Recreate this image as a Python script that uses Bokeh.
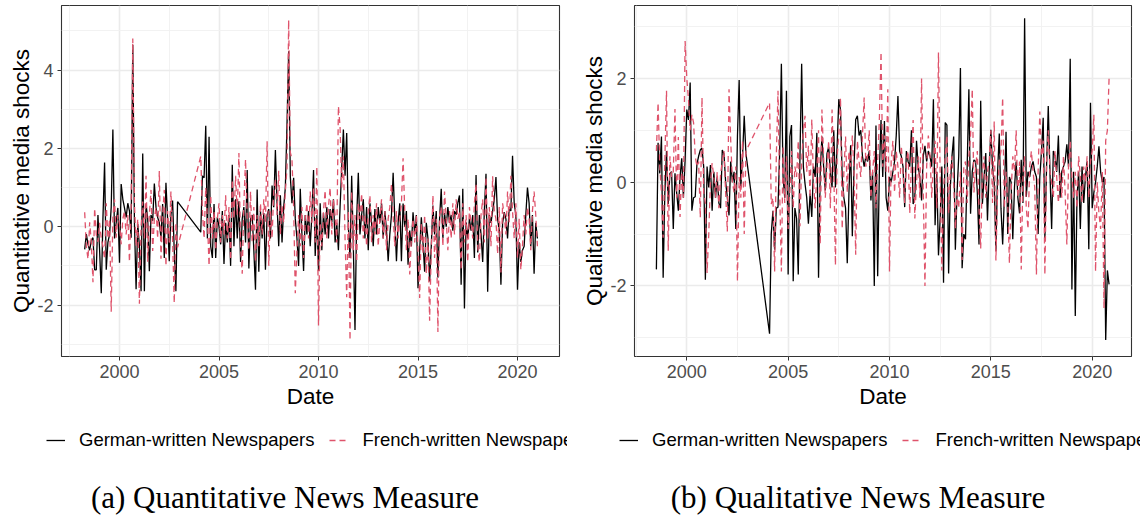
from bokeh.plotting import figure
from bokeh.models import Range1d, FixedTicker, Legend, LegendItem, ColumnDataSource, Spacer, Label
from bokeh.layouts import row, column
from bokeh.embed import file_html
from bokeh.resources import INLINE

# ---------------- data (monthly, decimal years) ----------------
# Panel (a): quantitative measure, 1998-04..2002-12 and 2004-02..2021-01
quant_german_1998 = [
    -0.58, -0.19, -0.45, -0.6, -0.35, -0.28, -1.1, -1.1, 0.3, -0.6,
    -1.7, 0.2, 1.64, -1.1, -0.4, -0.2, 0.5, 2.48, -0.3, 0.1,
    0.48, -0.92, 1.09, 0.7, 0.48, 0.24, 0.6, 0.4, -0.28, 4.64,
    0.1, -1.6, 0.07, -0.5, -1.65, 1.87, -1.65, 0.58, 0.2, -1.14,
    0.3, 0.15, 1.1, 0.5, 0.24, 0.1, -0.28, 0.58, -0.8, 1.12,
    0.2, -0.88, 0.3, 0.67, -0.6, -1.65, 0.64]
quant_french_1998 = [
    0.37, -0.5, -0.83, 0.11, -0.4, -1.42, 0.47, -0.2, -0.39, 0.1,
    -0.3, -0.5, -0.82, 0.6, -0.3, 0.2, -2.17, 0.24, 0.7, -0.28,
    0.3, 0.07, -0.45, 0.2, 0.4, -0.2, 0.3, -0.9, 0.5, 4.81,
    0.6, -0.5, 0.2, -1.97, 0.0, 0.64, -0.3, 1.3, -0.9, 0.3,
    0.94, -0.62, 0.2, 0.5, -0.3, 1.42, -0.82, 0.3, 0.94, -1.0,
    0.4, -0.4, 0.9, -0.3, -1.95, 0.1, -0.53]
quant_german_2004 = [
    -0.14, 1.3, 1.25, 2.58, -0.3, 2.3, -0.5, -0.8, 0.58, -0.8,
    0.24, 0.0, -0.45, 0.4, -0.95, 0.1, -0.4, 0.3, -1.0, 1.58,
    -0.5, 0.7, -0.3, 0.65, -0.9, 0.2, 0.5, -0.4, 1.45, -1.07,
    0.2, 0.3, -0.6, -1.61, 0.95, -1.15, 0.4, -0.3, 0.35, -1.1,
    0.3, 0.45, -0.3, 1.05, 0.5, 1.96, 0.6, -0.5, 0.8, -0.4,
    0.5, 1.0, 2.6, 4.48, 1.28, 0.6, 1.25, 0.2, -0.3, -1.0,
    0.97, -0.2, -1.13, 0.3, -0.2, 0.4, -0.5, 0.3, 1.45, -0.75,
    0.3, -1.13, 0.6, -0.6, 0.35, -0.2, 0.5, -0.3, 0.45, 0.1,
    0.7, -0.4, 0.1, -0.6, 0.5, 1.5, 2.48, 1.3, 2.39, 0.0,
    -0.8, 1.3, -0.5, -2.64, 0.2, 1.38, -0.2, 0.3, 0.7, -0.3,
    0.5, -0.6, 0.6, 0.1, -0.5, 0.45, -0.2, 0.5, 0.1, 0.6,
    -0.3, 0.4, -0.1, -0.88, -0.2, 0.3, 1.38, 0.2, -0.88, 0.1,
    0.6, -0.88, 0.59, 0.0, 0.4, -0.97, -0.1, -0.5, 0.37, -0.2,
    0.3, -1.57, -0.6, 0.24, -0.4, -1.15, 0.1, -0.3, -1.4, -0.5,
    0.54, -0.2, 0.4, -1.3, 0.2, 0.97, -0.3, 0.35, 0.0, 0.5,
    0.1, 0.3, -0.1, 0.4, 0.3, 0.6, 0.8, -1.48, 0.97, -2.09,
    0.11, -0.3, 0.2, -0.1, 0.3, -0.8, 1.32, -0.66, 0.3, -0.2,
    -0.9, 0.4, 1.35, -1.66, 0.3, 0.1, 0.4, 0.7, 1.27, 0.2,
    -0.1, -1.48, 0.1, 0.37, 0.2, -0.3, 0.5, 0.4, 1.81, 0.6,
    0.3, -1.61, -0.4, -0.9, -0.6, -0.5, 0.3, 1.0, 0.6, -0.5,
    0.3, -1.2, 0.1, -0.3]
quant_french_2004 = [
    1.8, 0.4, -0.3, 1.0, 0.2, -1.0, 0.8, -0.3, 0.4, -0.6,
    0.2, 0.6, -0.4, 0.3, -0.2, 0.8, -0.3, 0.5, -0.85, 1.2,
    0.2, 1.3, 0.3, 1.88, -0.5, -1.2, 0.6, 1.72, 0.2, -0.6,
    0.9, -0.4, 0.5, -0.9, 0.3, -0.5, 0.6, -0.2, 0.7, 0.1,
    2.18, -1.0, 0.4, -0.3, 0.9, 1.2, 0.3, 1.43, -0.2, 0.55,
    0.1, 0.9, 1.5, 5.28, 1.9, 1.72, 0.5, -1.7, -0.6, 0.3,
    -0.5, 0.5, -0.8, 0.2, 0.6, -0.3, 0.9, 0.1, 1.0, -0.4,
    1.53, -2.52, 0.1, -0.5, 0.4, 0.93, -0.3, 0.5, 1.0, -0.2,
    0.7, 0.3, -0.4, 3.08, 2.55, 1.0, 1.8, -0.3, -1.8, 0.4,
    -2.9, 0.9, -0.6, 0.3, -0.9, 0.6, 0.2, 0.85, -0.3, 0.3,
    -0.5, 0.4, 0.8, -0.4, 0.3, -0.2, 0.6, -0.5, 0.2, 0.7,
    -0.3, 0.4, -0.6, 0.2, 0.5, 1.1, 0.3, -0.5, 0.4, -0.3,
    0.2, 0.6, 1.75, 0.4, -0.6, 0.2, -1.22, -0.3, 0.2, -0.4,
    0.3, -0.6, -1.82, 0.1, -0.7, 0.3, -1.2, -0.3, -2.4, -0.6,
    0.8, -0.8, 0.2, -2.69, 0.3, 0.5, -0.5, 0.9, 0.2, -0.6,
    0.4, -0.3, 0.6, -0.2, 0.7, 0.2, 0.4, -1.1, 0.6, -0.4,
    0.3, -0.9, 0.5, 0.1, -0.3, 0.6, 1.1, -0.5, -0.9, 0.3,
    0.7, -0.4, 1.27, -0.3, 0.5, -0.5, 1.29, 0.4, 0.2, -0.7,
    0.5, -1.17, 0.6, 0.3, -0.2, 0.9, 0.1, 1.3, 0.4, -0.3,
    0.6, -0.8, 0.2, -1.1, -0.5, 0.3, -0.2, 0.5, 0.2, -0.6,
    0.4, 0.9, 0.3, -0.5]

# Panel (b): qualitative measure, 1998-07..2002-12 and 2004-02..2020-11
qual_german_1998 = [
    -1.68, 0.76, 0.17, 0.88, -1.84, -0.2, 0.6, -0.42, 0.17, 0.2,
    -0.9, 0.17, -0.2, -0.55, 0.1, 0.46, -0.3, 0.43, 1.4, 1.2,
    1.92, -0.55, -0.3, -0.28, 0.35, 0.5, 0.62, 0.66, 0.3, -1.88,
    0.3, -0.1, 0.33, -0.55, 0.2, -0.3, 0.1, -0.4, -0.5, 0.62,
    0.55, 0.0, -0.3, -0.64, 0.4, 0.0, 0.2, -0.9, 0.9, 1.97,
    -0.1, 0.5, 1.28, 0.55]
qual_french_1998 = [
    0.6, 1.53, 0.3, -0.2, -1.07, 0.4, 1.76, -1.32, 0.5, 0.1,
    0.2, 1.41, -0.3, 0.87, -0.67, 0.2, -0.3, 2.72, 2.0, 1.6,
    1.0, 1.3, 1.15, 0.5, 0.3, 0.4, -0.68, 1.63, -0.2, -0.4,
    -1.75, -1.0, 0.0, 0.37, 0.1, -0.3, 0.2, -0.5, 0.15, 0.4,
    0.6, -0.2, -0.95, 1.79, 0.8, 0.0, -0.2, 0.3, -1.91, 0.1,
    -0.3, 0.8, -1.0, 0.6]
qual_german_2004 = [
    -2.92, -1.0, -0.55, -1.3, -0.5, -0.48, 0.6, 2.28, 0.1, -0.3,
    1.76, -1.78, 0.88, 1.1, -1.91, -0.5, -0.7, -1.78, 0.5, 2.28,
    0.3, -0.03, -0.3, -0.8, -0.22, -0.67, 0.3, 0.1, 0.95, -1.84,
    0.2, 0.88, 0.3, -0.16, 0.55, 0.68, 0.2, -0.1, 1.0, -0.1,
    0.7, 1.6, 1.4, 0.1, -0.3, -0.5, -1.56, -0.2, 0.71, -1.04,
    0.3, 1.21, 1.28, 0.9, 1.0, 0.5, 0.3, 0.5, 0.4, 0.6,
    -0.35, 0.2, -2.0, 1.09, -1.81, 0.2, 1.2, 0.1, 1.18, -0.3,
    -0.55, 0.1, 0.0, 0.2, 0.4, 0.9, 1.66, 0.6, 0.5, 0.3,
    -0.48, 0.6, 0.4, 0.3, 1.0, -0.42, -0.3, 0.8, 0.3, 0.1,
    -0.35, 0.5, 0.7, 0.4, 0.6, 0.5, 0.3, 1.6, -0.83, 0.2,
    -1.41, -0.7, 0.3, -1.94, 1.15, 1.1, -1.76, -0.1, 0.5, 0.88,
    -1.3, -0.2, 0.5, 2.2, -1.66, -1.0, -1.1, 0.3, 1.79, -0.61,
    0.2, 0.43, 0.4, -0.2, -1.2, 1.57, -0.42, 0.1, 0.56, -0.74,
    0.2, 1.01, 0.3, 0.0, -1.33, 0.2, 0.94, -0.5, -1.2, -0.3,
    0.97, -1.0, 0.1, 0.0, -1.1, -0.1, 0.4, -0.3, -0.6, 0.43,
    -0.4, 3.16, -0.28, 0.2, 0.1, 0.3, 0.4, 0.2, 0.1, -1.0,
    0.1, 0.6, 1.24, -1.09, 0.3, 1.47, 0.2, -0.9, 0.6, 0.5,
    0.2, 0.9, -0.3, 0.2, 0.3, 0.4, 0.73, 0.3, 2.38, -2.07,
    0.2, -2.58, -0.3, 0.2, -0.9, 0.3, -0.4, 0.1, 0.4, -1.29,
    1.53, -0.5, -0.2, 0.0, 0.3, 0.69, 0.2, 0.0, 0.1, -3.04,
    -1.7, -1.97]
qual_french_2004 = [
    1.53, -0.42, -0.3, -1.72, 0.5, 1.76, -0.2, -1.72, 0.7, -0.4,
    0.5, -0.9, -0.2, 0.6, -0.5, 0.3, 0.1, 0.8, -0.85, 0.4,
    1.0, 1.28, 0.2, 0.7, -0.3, 1.21, 0.0, -0.5, 0.2, 1.0,
    -1.2, 1.4, 0.5, -0.3, 0.3, 0.8, -0.5, 1.4, 0.3, -1.6,
    0.5, 0.9, 1.63, -0.9, 0.2, 0.88, -0.2, 0.6, 0.3, 0.9,
    0.2, -1.4, 0.8, 0.4, 0.1, 0.9, 1.63, 0.3, 0.5, 1.0,
    -0.3, 0.2, 0.6, -0.5, 0.4, 1.2, 2.51, 0.3, 0.9, 0.2,
    1.79, -1.72, 0.4, 0.8, -0.2, 0.6, 0.3, -0.3, 0.7, 0.2,
    -0.4, 0.4, 0.6, -0.6, 0.4, 1.2, -0.7, 0.0, 0.5, -0.3,
    2.0, -0.2, -2.0, 0.3, 0.9, 0.5, -0.3, 0.4, 0.8, -0.5,
    2.5, 0.1, -1.7, -0.2, 0.5, 0.9, -0.6, 0.2, 0.5, 0.0,
    -0.9, -0.2, -0.5, 0.2, -1.5, 0.3, 0.4, -0.4, 0.5, 0.9,
    1.79, -0.2, 0.3, 0.6, -0.5, -1.28, 0.2, 0.5, -0.3, 0.2,
    0.4, 1.0, -0.4, 1.17, -1.51, -0.2, 0.4, 0.6, 1.63, -0.5,
    0.2, -0.4, -1.56, -0.2, 0.5, 0.2, 1.0, -0.3, 0.4, -1.68,
    0.1, 0.5, -0.5, -0.9, 0.3, 0.6, 0.2, -0.1, -1.78, 0.2,
    1.36, 0.5, 0.8, -1.78, 0.4, 1.0, 0.2, 0.0, -0.3, 0.6,
    0.1, -0.4, 0.2, -0.3, 0.5, -0.2, -1.2, 0.3, 0.8, 0.1,
    -0.3, 0.2, -0.5, 0.5, 0.1, -0.4, 0.3, 0.0, 0.5, -0.3,
    0.4, 0.6, 1.3, -1.72, 0.0, -0.6, -0.9, 0.2, -2.43, 0.8,
    1.0, 2.0]

series_labels = ["German-written Newspapers", "French-written Newspapers"]
x_ticks = [2000, 2005, 2010, 2015, 2020]
x_minor = [1997.5, 2002.5, 2007.5, 2012.5, 2017.5, 2022.5]
captions = ["(a) Quantitative News Measure", "(b) Qualitative News Measure"]


def month_dates(year, month, n):
    # decimal year of n consecutive months starting at (year, month)
    return [year + (month - 1 + k) / 12.0 for k in range(n)]


dates_a = month_dates(1998, 4, len(quant_german_1998)) + month_dates(2004, 2, len(quant_german_2004))
dates_b = month_dates(1998, 7, len(qual_german_1998)) + month_dates(2004, 2, len(qual_german_2004))

SANS = "Liberation Sans"
SERIF = "Liberation Serif"
RED = "#DF536B"
TOP_H = 416
BOTTOM_H = 100


def make_panel(width, left, right, xr, yr, yticks, yminor, ylabel, dates, german, french,
               caption, legend_x, caption_x):
    src = ColumnDataSource(dict(date=dates, german=german, french=french))

    p = figure(width=width, height=TOP_H, x_range=Range1d(*xr), y_range=Range1d(*yr),
               output_backend="svg", toolbar_location=None,
               min_border_left=left, min_border_right=right, min_border_top=5, min_border_bottom=60,
               background_fill_color="white", border_fill_color="white")
    p.outline_line_color = "#333333"
    p.outline_line_width = 1.1
    p.xaxis.ticker = FixedTicker(ticks=x_ticks, minor_ticks=x_minor)
    p.yaxis.ticker = FixedTicker(ticks=yticks, minor_ticks=yminor)
    p.yaxis.major_label_overrides = {t: ("-%d" % abs(t) if t < 0 else "%d" % t) for t in yticks}
    for g in (p.xgrid, p.ygrid):
        g.grid_line_color = "#EBEBEB"
        g.grid_line_width = 1.6
        g.minor_grid_line_color = "#F0F0F0"
        g.minor_grid_line_width = 0.9
    for ax in (p.xaxis, p.yaxis):
        ax.axis_line_color = None
        ax.major_tick_line_color = "#333333"
        ax.major_tick_in = 0
        ax.major_tick_out = 4
        ax.minor_tick_line_color = None
        ax.major_label_text_font = SANS
        ax.major_label_text_font_size = "18px"
        ax.major_label_text_color = "#4D4D4D"
        ax.axis_label_text_font = SANS
        ax.axis_label_text_font_size = "22.5px"
        ax.axis_label_text_font_style = "normal"
        ax.axis_label_text_color = "black"
    p.xaxis.axis_label = "Date"
    p.xaxis.major_label_standoff = 4
    p.xaxis.axis_label_standoff = 3
    p.yaxis.axis_label = ylabel
    p.yaxis.major_label_standoff = 4
    p.yaxis.axis_label_standoff = 0

    p.line("date", "german", source=src, line_color="black", line_width=1.3)
    p.line("date", "french", source=src, line_color=RED, line_width=1.3, line_dash="6 4")

    # strip below the panel: legend + caption (the series are drawn out of view here,
    # only to feed the legend keys)
    b = figure(width=width, height=BOTTOM_H, x_range=p.x_range, y_range=Range1d(100, 110),
               output_backend="svg", toolbar_location=None, x_axis_type=None, y_axis_type=None,
               min_border_left=0, min_border_right=0, min_border_top=0, min_border_bottom=0,
               outline_line_color=None, background_fill_color="white", border_fill_color="white")
    aligned = True
    try:
        b.frame_align = False
        aligned = False
    except Exception:
        aligned = True
    off = left if aligned else 0
    b.xgrid.visible = False
    b.ygrid.visible = False
    k1 = b.line("date", "german", source=src, line_color="black", line_width=1.3)
    k2 = b.line("date", "french", source=src, line_color=RED, line_width=1.3, line_dash="6 4")
    leg = Legend(items=[LegendItem(label=series_labels[0], renderers=[k1]),
                        LegendItem(label=series_labels[1], renderers=[k2])],
                 orientation="horizontal", location=(max(legend_x - off, 0), 65),
                 padding=0, margin=0, spacing=15, label_standoff=14,
                 glyph_width=19, glyph_height=20, label_height=20,
                 border_line_color=None, background_fill_alpha=0,
                 label_text_font=SANS, label_text_font_size="18.5px", label_text_color="black")
    b.add_layout(leg)
    b.add_layout(Label(x=caption_x - off, y=19, x_units="screen", y_units="screen", text=caption,
                       text_align="center", text_baseline="middle",
                       text_font=SERIF, text_font_size="31px", text_color="black"))
    return column(p, b, spacing=0)


panel_a = make_panel(567, 61, 8, (1997.085, 2022.11), (-3.315, 5.65), [-2, 0, 2, 4], [-3, -1, 1, 3, 5],
                     "Quantitative media shocks", dates_a,
                     quant_german_1998 + quant_german_2004, quant_french_1998 + quant_french_2004,
                     captions[0], 46, 284.5)
panel_b = make_panel(565, 59, 9, (1997.42, 2021.94), (-3.359, 3.405), [-2, 0, 2], [-3, -1, 1, 3],
                     "Qualitative media shocks", dates_b,
                     qual_german_1998 + qual_german_2004, qual_french_1998 + qual_french_2004,
                     captions[1], 44, 282.5)

layout = row(panel_a, Spacer(width=8, height=TOP_H + BOTTOM_H), panel_b, spacing=0)
open("out.html", "w").write(file_html(layout, INLINE))
